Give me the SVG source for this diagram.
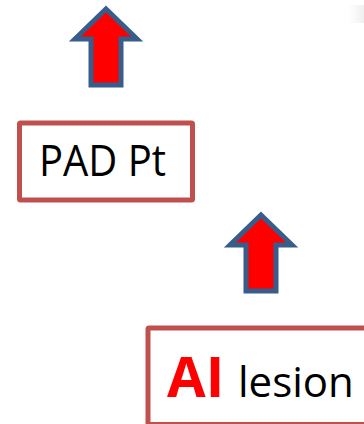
<svg xmlns="http://www.w3.org/2000/svg" width="364" height="424" viewBox="0 0 364 424">
  <style>
    .box { fill: #FFFFFF; stroke: #C0504D; stroke-width: 5; }
    .up { fill: #FF0000; stroke: #385D8A; stroke-width: 5; stroke-linejoin: miter; stroke-miterlimit: 10; }
    .lbl { font-family: "Open Sans", "Liberation Sans", sans-serif; fill: #000000; }
    .hot { font-family: "Open Sans", "Liberation Sans", sans-serif; font-weight: 700; fill: #FF0000; }
  </style>
  <defs>
    <!-- block arrow pointing up, tip at origin -->
    <path id="upArrow" d="M0,4 L31,34 L15,34 L15,80 L-15,80 L-15,34 L-31,34 Z"/>
    <linearGradient id="edgeFade" x1="0" y1="0" x2="1" y2="0">
      <stop offset="0" stop-color="#F4F4F4" stop-opacity="0"/>
      <stop offset="1" stop-color="#EEEEEE"/>
    </linearGradient>
  </defs>

  <rect width="364" height="424" fill="#FFFFFF"/>
  <!-- faint edge at the top-right corner -->
  <rect x="348" y="5" width="16" height="18" fill="url(#edgeFade)"/>

  <g id="connectors">
    <use href="#upArrow" class="up" transform="translate(106,5)"/>
    <use href="#upArrow" class="up" transform="translate(261,211)"/>
  </g>

  <g id="pad-pt">
    <rect class="box" x="19.5" y="123" width="173" height="77" rx="1"/>
    <text class="lbl" x="39" y="176" font-size="43" textLength="127" lengthAdjust="spacingAndGlyphs">PAD Pt</text>
  </g>

  <g id="ai-lesion">
    <rect class="box" x="148" y="328" width="240" height="96.5" rx="1"/>
    <text x="167" y="397" font-size="56">
      <tspan class="hot">AI</tspan>
      <tspan class="lbl" font-size="42" x="238">lesion</tspan>
    </text>
  </g>
</svg>
